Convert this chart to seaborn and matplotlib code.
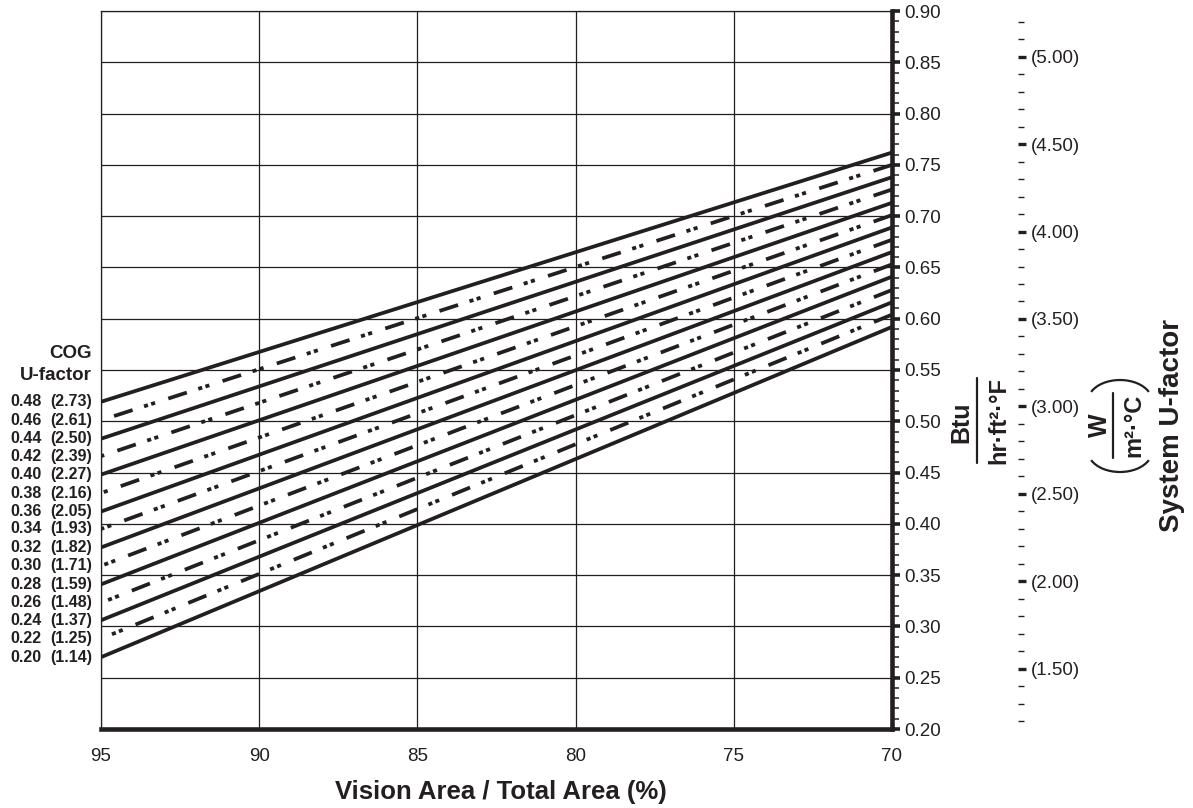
import numpy as np
import pandas as pd
import matplotlib
matplotlib.use("Agg")
import matplotlib.pyplot as plt
import seaborn as sns
from matplotlib.ticker import MultipleLocator
from matplotlib.lines import Line2D
from matplotlib.patches import Arc

# Data
vision_pct = [95, 70]
cog_ip = [0.20, 0.22, 0.24, 0.26, 0.28, 0.30, 0.32, 0.34, 0.36, 0.38, 0.40, 0.42, 0.44, 0.46, 0.48]
cog_ip_labels = ["0.20", "0.22", "0.24", "0.26", "0.28", "0.30", "0.32", "0.34",
                 "0.36", "0.38", "0.40", "0.42", "0.44", "0.46", "0.48"]
cog_si_labels = ["(1.14)", "(1.25)", "(1.37)", "(1.48)", "(1.59)", "(1.71)", "(1.82)", "(1.93)",
                 "(2.05)", "(2.16)", "(2.27)", "(2.39)", "(2.50)", "(2.61)", "(2.73)"]
sys_at_95 = [0.270, 0.288, 0.306, 0.323, 0.341, 0.359, 0.377, 0.395,
             0.412, 0.430, 0.448, 0.466, 0.483, 0.501, 0.519]
sys_at_70 = [0.592, 0.604, 0.616, 0.628, 0.641, 0.653, 0.665, 0.677,
             0.689, 0.701, 0.713, 0.726, 0.738, 0.750, 0.762]
line_kind = ["solid", "dash"] * 7 + ["solid"]

x_ticks = [95, 90, 85, 80, 75, 70]
y_ticks = [0.20, 0.25, 0.30, 0.35, 0.40, 0.45, 0.50, 0.55, 0.60, 0.65, 0.70, 0.75, 0.80, 0.85, 0.90]
y_tick_labels = ["0.20", "0.25", "0.30", "0.35", "0.40", "0.45", "0.50", "0.55",
                 "0.60", "0.65", "0.70", "0.75", "0.80", "0.85", "0.90"]
si_ticks = [1.50, 2.00, 2.50, 3.00, 3.50, 4.00, 4.50, 5.00]
si_tick_labels = ["(1.50)", "(2.00)", "(2.50)", "(3.00)", "(3.50)", "(4.00)", "(4.50)", "(5.00)"]

SI_SLOPE = 0.1705
SI_OFFSET = 0.0030

rows = []
for c, k, a, b in zip(cog_ip, line_kind, sys_at_95, sys_at_70):
    rows.append({"cog": c, "kind": k, "vision": vision_pct[0], "u_sys": a})
    rows.append({"cog": c, "kind": k, "vision": vision_pct[1], "u_sys": b})
df = pd.DataFrame(rows)

sns.set_theme(style="white")
plt.rcParams["font.family"] = ["Liberation Sans", "DejaVu Sans"]
ink = "#231f20"

W, H = 1193, 808
fx = lambda px: px / W
fy = lambda py: 1 - py / H

fig = plt.figure(figsize=(W / 100, H / 100), dpi=100)
ax = fig.add_axes([fx(101), fy(729), fx(892) - fx(101), fy(11) - fy(729)])

sns.lineplot(data=df, x="vision", y="u_sys", units="cog", estimator=None,
             style="kind", dashes={"solid": "", "dash": (5.2, 3.7, 1.1, 0.9, 1.1, 3.2)},
             color=ink, lw=2.7, legend=False, ax=ax)
for ln in ax.get_lines():
    ln.set_dash_capstyle("butt")
    ln.set_solid_capstyle("butt")

ax.set_xlim(95, 70)
ax.set_ylim(0.20, 0.90)
ax.set_xticks(x_ticks)
ax.set_xticklabels([str(v) for v in x_ticks])
ax.xaxis.set_minor_locator(MultipleLocator(1))
ax.set_yticks(y_ticks)
ax.set_yticklabels(y_tick_labels)
ax.yaxis.set_minor_locator(MultipleLocator(0.01))
ax.yaxis.tick_right()
ax.set_xlabel("")
ax.set_ylabel("")
ax.grid(True, which="major", color=ink, lw=0.9)

for side in ["top", "left"]:
    ax.spines[side].set_linewidth(0.9)
    ax.spines[side].set_color(ink)
for side in ["bottom", "right"]:
    ax.spines[side].set_linewidth(3.3)
    ax.spines[side].set_color(ink)

ax.tick_params(axis="x", which="major", direction="out", length=7, width=2.6,
               color=ink, labelsize=13.5, labelcolor=ink, pad=7)
ax.tick_params(axis="x", which="minor", direction="out", length=6, width=1.2, color=ink)
ax.tick_params(axis="y", which="major", direction="out", length=6, width=2.6,
               color=ink, labelsize=13.5, labelcolor=ink, pad=3,
               right=True, left=False)
ax.tick_params(axis="y", which="minor", direction="out", length=5, width=1.1,
               color=ink, right=True, left=False)

# secondary SI scale
sec = ax.secondary_yaxis((1018 - 101) / 791,
                         functions=(lambda v: (v - SI_OFFSET) / SI_SLOPE,
                                    lambda v: v * SI_SLOPE + SI_OFFSET))
sec.spines["right"].set_visible(False)
sec.set_yticks(si_ticks)
sec.set_yticklabels(si_tick_labels)
sec.yaxis.set_minor_locator(MultipleLocator(0.1))
sec.tick_params(which="major", direction="out", length=6, width=2.4, color=ink,
                labelsize=13.5, labelcolor=ink, pad=3)
sec.tick_params(which="minor", direction="out", length=4.5, width=1.0, color=ink)

# COG labels on the left
for v, lab_ip, lab_si in zip(sys_at_95, cog_ip_labels, cog_si_labels):
    ax.annotate(lab_si, xy=(0, v), xycoords=("axes fraction", "data"),
                xytext=(-6.5, 0), textcoords="offset points",
                ha="right", va="center", fontsize=11.5, fontweight="bold", color=ink)
    ax.annotate(lab_ip, xy=(0, v), xycoords=("axes fraction", "data"),
                xytext=(-42.5, 0), textcoords="offset points",
                ha="right", va="center", fontsize=11.5, fontweight="bold", color=ink)
fig.text(fx(92), fy(353), "COG", ha="right", va="center", fontsize=13.5,
         fontweight="bold", color=ink)
fig.text(fx(92), fy(376), "U-factor", ha="right", va="center", fontsize=13.5,
         fontweight="bold", color=ink)

# axis titles
fig.text(fx(501), fy(792), "Vision Area / Total Area (%)", ha="center", va="center",
         fontsize=18.5, fontweight="bold", color=ink)

fig.text(fx(961), fy(422), "Btu", rotation=90, ha="center", va="center",
         fontsize=18, fontweight="bold", color=ink)
fig.add_artist(Line2D([fx(977), fx(977)], [fy(378), fy(463)], color=ink, lw=1.6,
                      transform=fig.transFigure))
fig.text(fx(999), fy(420), "hr·ft²·°F", rotation=90, ha="center", va="center",
         fontsize=17, fontweight="bold", color=ink)

fig.text(fx(1100), fy(425), "W", rotation=90, ha="center", va="center",
         fontsize=18, fontweight="bold", color=ink)
fig.add_artist(Line2D([fx(1113), fx(1113)], [fy(393), fy(458)], color=ink, lw=1.6,
                      transform=fig.transFigure))
fig.text(fx(1134), fy(425), "m²·°C", rotation=90, ha="center", va="center",
         fontsize=17, fontweight="bold", color=ink)
fig.add_artist(Arc((fx(1120), fy(401)), fx(64), 42 / H, theta1=25, theta2=155,
                   color=ink, lw=1.6, transform=fig.transFigure))
fig.add_artist(Arc((fx(1120), fy(451)), fx(64), 42 / H, theta1=205, theta2=335,
                   color=ink, lw=1.6, transform=fig.transFigure))

fig.text(fx(1172), fy(426), "System U-factor", rotation=90, ha="center", va="center",
         fontsize=20, fontweight="bold", color=ink)

fig.savefig("out.png", dpi=100)
